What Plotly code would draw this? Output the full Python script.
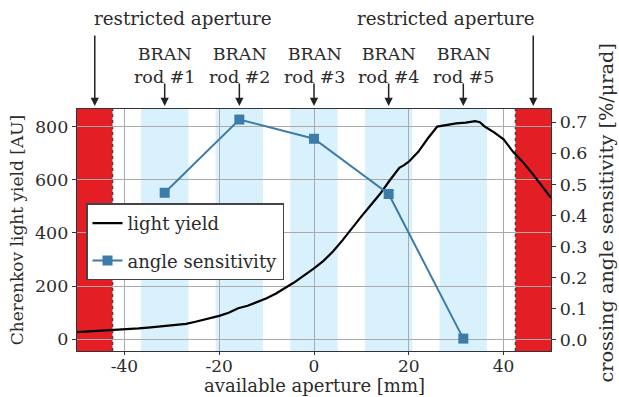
import plotly.graph_objects as go

# ---------------- data ----------------
aperture_mm = [-50, -47, -45, -43, -40, -37, -35, -32, -30, -27, -25, -22, -20, -18, -16,
               -14, -12, -10, -8, -6, -5, -4, -2, 0, 2, 4, 6, 7, 8, 10, 12, 14, 16, 18,
               19, 20, 22, 24, 26, 27, 28, 30, 32, 34, 35, 36, 38, 40, 42, 44, 46, 48, 50]
light_yield = [27, 30, 32, 34, 36, 41, 44, 49, 53, 58, 66, 78, 88, 100, 117,
               126, 140, 154, 172, 192, 205, 216, 240, 267, 295, 330, 372, 395, 420, 462, 505, 548, 598, 645,
               655, 668, 705, 755, 800, 803, 808, 812, 815, 820, 816, 800, 778, 752, 705, 668, 625, 578, 532]

rod_pos = [-31.5, -15.75, 0.0, 15.75, 31.5]
rod_labels = ["BRAN<br>rod #1", "BRAN<br>rod #2", "BRAN<br>rod #3", "BRAN<br>rod #4", "BRAN<br>rod #5"]
angle_sens = [0.473, 0.709, 0.647, 0.469, 0.003]

rod_half_width = 5.0
restricted_limit = 42.5
x_range = [-50, 50]

x_ticks = [-40, -20, 0, 20, 40]
x_ticktext = ["-40", "-20", "0", "20", "40"]
y1_ticks = [0, 200, 400, 600, 800]
y2_ticks = [0.0, 0.1, 0.2, 0.3, 0.4, 0.5, 0.6, 0.7]

FONT = "DejaVu Serif"
FS = 17.5
TXT = "#2b2b2b"
RED = "#e31e24"
BAND = "#d9f1fc"
BLUE = "#3d7ca8"
GRID = "#aaaaaa"

fig = go.Figure()

fig.add_trace(go.Scatter(
    x=aperture_mm, y=light_yield, mode="lines", name="light yield",
    line=dict(color="black", width=2.2), legendgroup="a", yaxis="y"))
fig.add_trace(go.Scatter(
    x=rod_pos, y=angle_sens, mode="lines+markers", name="angle sensitivity",
    line=dict(color=BLUE, width=2), marker=dict(symbol="square", size=10, color=BLUE),
    legendgroup="b", yaxis="y2"))

shapes = []
for x0, x1 in [(x_range[0], -restricted_limit), (restricted_limit, x_range[1])]:
    shapes.append(dict(type="rect", xref="x", yref="paper", x0=x0, x1=x1, y0=0, y1=1,
                       fillcolor=RED, line=dict(width=0), layer="below"))
for p in rod_pos:
    shapes.append(dict(type="rect", xref="x", yref="paper", x0=p - rod_half_width, x1=p + rod_half_width,
                       y0=0, y1=1, fillcolor=BAND, line=dict(width=0), layer="below"))
for xb in [-restricted_limit, restricted_limit]:
    shapes.append(dict(type="line", xref="x", yref="paper", x0=xb, x1=xb, y0=0, y1=1,
                       line=dict(color="#444444", width=1.5, dash="dot"), layer="below"))

annotations = []
tip_y = 1.012
for xa in [-(x_range[1] + restricted_limit) / 2, (x_range[1] + restricted_limit) / 2]:
    annotations.append(dict(x=xa, y=tip_y, xref="x", yref="paper", text="", showarrow=True,
                            ax=0, ay=-72, arrowhead=2, arrowsize=1.1, arrowwidth=1.5, arrowcolor="#222222"))
annotations.append(dict(x=-46.9, y=1.376, xref="x", yref="paper", text="restricted aperture",
                        showarrow=False, xanchor="left", yanchor="middle",
                        font=dict(family=FONT, size=18.3, color=TXT)))
annotations.append(dict(x=47.0, y=1.376, xref="x", yref="paper", text="restricted aperture",
                        showarrow=False, xanchor="right", yanchor="middle",
                        font=dict(family=FONT, size=18.3, color=TXT)))
for p, lab in zip(rod_pos, rod_labels):
    annotations.append(dict(x=p, y=tip_y, xref="x", yref="paper", text="", showarrow=True,
                            ax=0, ay=-24, arrowhead=2, arrowsize=1.1, arrowwidth=1.5, arrowcolor="#222222"))
    annotations.append(dict(x=p, y=1.18, xref="x", yref="paper", text=lab, showarrow=False,
                            xanchor="center", yanchor="middle",
                            font=dict(family=FONT, size=FS, color=TXT)))
annotations.append(dict(x=1.118, y=0.572, xref="paper", yref="paper",
                        text="crossing angle sensitivity [%/μrad]", textangle=-90, showarrow=False,
                        xanchor="center", yanchor="middle", font=dict(family=FONT, size=19.3, color=TXT)))
annotations.append(dict(x=0.5, y=-0.192, xref="paper", yref="paper",
                        text="available aperture [mm]", showarrow=False, borderpad=0,
                        xanchor="center", yanchor="bottom", font=dict(family=FONT, size=18, color=TXT)))

axis_common = dict(showline=True, linecolor="#333333", linewidth=1.3, ticks="outside",
                   tickcolor="#333333", zeroline=False, automargin=False)

fig.update_layout(
    width=619, height=397,
    margin=dict(l=77, r=68, t=109, b=46),
    paper_bgcolor="white", plot_bgcolor="white",
    font=dict(family=FONT, size=FS, color=TXT),
    showlegend=True,
    legend=dict(x=0.019, y=0.61, xanchor="left", yanchor="top", bgcolor="white",
                bordercolor="#444444", borderwidth=1.5, traceorder="grouped", tracegroupgap=11,
                font=dict(family=FONT, size=18, color=TXT)),
    xaxis=dict(range=x_range, tickvals=x_ticks, ticktext=x_ticktext, mirror=True, ticklen=3,
               ticklabelstandoff=-4,
               tickfont=dict(family=FONT, size=17, color=TXT),
               showgrid=True, gridcolor=GRID, gridwidth=1.2, **axis_common),
    yaxis=dict(range=[-44, 866], tickvals=y1_ticks, showgrid=True, gridcolor=GRID, gridwidth=1.2, ticklen=4,
               tickfont=dict(family=FONT, size=FS, color=TXT),
               title=dict(text="Cherenkov light yield [AU]", font=dict(family=FONT, size=17, color=TXT), standoff=6),
               **axis_common),
    yaxis2=dict(range=[-0.037, 0.743], tickvals=y2_ticks, tickformat=".1f", overlaying="y", side="right",
                ticklen=4, tickfont=dict(family=FONT, size=FS, color=TXT),
                showgrid=False, **axis_common),
    shapes=shapes,
    annotations=annotations,
)

fig.write_html("out.html")
